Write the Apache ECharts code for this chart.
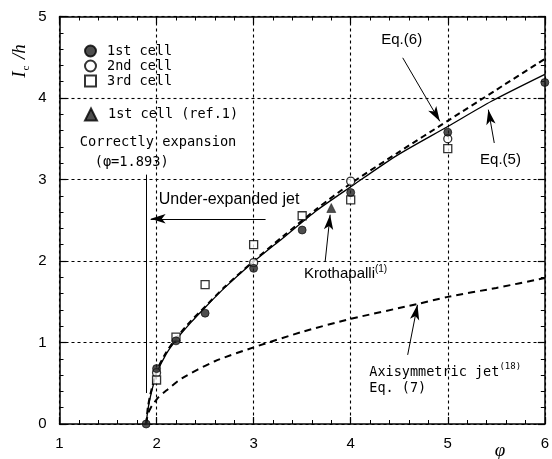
<!DOCTYPE html>
<html><head><meta charset="utf-8">
<script src="https://cdn.jsdelivr.net/npm/echarts@6/dist/echarts.min.js"></script>
<style>html,body{margin:0;padding:0;background:#fff}#c{width:552px;height:459px}</style>
</head><body><div id="c"></div>
<script>
// ---- data ----
const eq5 = [[1.893,0],[1.91,0.17],[1.93,0.30],[1.96,0.45],[2.0,0.62],[2.1,0.86],[2.2,1.03],[2.35,1.24],[2.5,1.43],[2.7,1.67],[3.0,1.99],[3.3,2.28],[3.65,2.62],[4.0,2.91],[4.47,3.29],[5.0,3.65],[5.45,3.96],[6.0,4.29]];
const eq6 = [[1.893,0],[1.91,0.20],[1.93,0.33],[1.96,0.48],[2.0,0.65],[2.1,0.88],[2.2,1.05],[2.35,1.26],[2.5,1.44],[2.7,1.68],[3.0,2.00],[3.3,2.30],[3.65,2.64],[4.0,2.95],[4.5,3.34],[5.0,3.72],[5.5,4.10],[6.0,4.48]];
const eq7 = [[1.893,0],[1.91,0.12],[1.94,0.20],[1.97,0.25],[2.02,0.33],[2.1,0.41],[2.26,0.56],[2.6,0.77],[3.0,0.94],[3.5,1.13],[4.0,1.29],[4.68,1.47],[5.0,1.56],[5.5,1.67],[6.0,1.79]];
const cell1 = [[1.893,0],[2,0.68],[2.2,1.02],[2.5,1.36],[3,1.91],[3.5,2.38],[4,2.84],[5,3.58],[6,4.19]];
const cell2 = [[2,0.63],[3,1.98],[4,2.98],[5,3.50]];
const cell3 = [[2,0.54],[2.2,1.065],[2.5,1.71],[3,2.20],[3.5,2.555],[4,2.75],[5,3.38]];
const ref1 = [[3.8,2.65]];
const seriesNames = ['1st cell','2nd cell','3rd cell','1st cell (ref.1)'];
// annotation arrows [from, to] in data coordinates
const arrows = [
  [[3.123,2.518],[1.939,2.518]],
  [[3.737,1.994],[3.788,2.568]],
  [[4.536,4.493],[4.918,3.714]],
  [[5.479,3.448],[5.418,3.857]],
  [[4.587,0.848],[4.688,1.462]]
];
const phiCorrect = [[1.893,3.06],[1.893,0.38]];

const chart = echarts.init(document.getElementById('c'));
const black = '#000';
const tickFont = {fontFamily:'Liberation Sans Narrow, Liberation Sans, sans-serif', fontSize:15, color:black};
function xAx(pos, labels){
  return {type:'value', min:1, max:6, interval:1, position:pos,
    axisLine:{show:true, onZero:false, lineStyle:{color:black,width:1.5}},
    axisTick:{show:true, inside:true, length:7, lineStyle:{color:black,width:1.2}},
    minorTick:{show:true, splitNumber:5, length:4, lineStyle:{color:black,width:1}},
    splitLine:{show:labels, lineStyle:{color:black,width:1.1,type:[3,3]}},
    axisLabel:labels?Object.assign({show:true, margin:12}, tickFont):{show:false}};
}
function yAx(pos, labels){
  return {type:'value', min:0, max:5, interval:1, position:pos,
    axisLine:{show:true, onZero:false, lineStyle:{color:black,width:1.5}},
    axisTick:{show:true, inside:true, length:7, lineStyle:{color:black,width:1.2}},
    minorTick:{show:true, splitNumber:5, length:4, lineStyle:{color:black,width:1}},
    splitLine:{show:labels, lineStyle:{color:black,width:1.1,type:[3,3]}},
    axisLabel:labels?Object.assign({show:true, margin:13}, tickFont):{show:false}};
}
const legendText = {fontFamily:'DejaVu Sans Mono, monospace', fontSize:13.5, color:black, padding:[0,0,0,6], lineHeight:12};
const option = {
  animation:false,
  backgroundColor:'#fff',
  grid:{left:59.5, top:16.5, width:491, height:407.5},
  xAxis:[xAx('bottom',true), xAx('top',false)],
  yAxis:[yAx('left',true), yAx('right',false)],
  legend:[
    {data:seriesNames.slice(0,3), orient:'vertical', left:84, top:44, itemWidth:11, itemHeight:11, itemGap:1, padding:0, selectedMode:false, textStyle:legendText},
    {data:[seriesNames[3]], orient:'vertical', left:84, top:107.5, itemWidth:12, itemHeight:12, padding:0, selectedMode:false, textStyle:legendText}
  ],
  series:[
    {name:'Eq.(5)', type:'line', data:eq5, showSymbol:false, smooth:0.25, lineStyle:{color:black,width:1.3}, z:3},
    {name:'Eq.(6)', type:'line', data:eq6, showSymbol:false, smooth:0.25, lineStyle:{color:black,width:2,type:[6,4]}, z:3},
    {name:'Eq.(7)', type:'line', data:eq7, showSymbol:false, smooth:0.25, lineStyle:{color:black,width:2,type:[7,5]}, z:3,
      markLine:{silent:true, animation:false, symbol:['none','arrow'], symbolSize:[7,15], precision:3,
        lineStyle:{type:'solid', color:black, width:1}, label:{show:false},
        data: arrows.map(a=>[{coord:a[0]},{coord:a[1]}]).concat([[{coord:phiCorrect[0],symbol:'none'},{coord:phiCorrect[1],symbol:'none'}]])
      }},
    {name:seriesNames[0], type:'scatter', data:cell1, symbol:'circle', symbolSize:8, itemStyle:{color:'#222',borderColor:'#000',borderWidth:0.8}, z:6},
    {name:seriesNames[1], type:'scatter', data:cell2, symbol:'circle', symbolSize:8, itemStyle:{color:'#fff',borderColor:'#000',borderWidth:1.3}, z:5},
    {name:seriesNames[2], type:'scatter', data:cell3, symbol:'rect', symbolSize:8, itemStyle:{color:'#fff',borderColor:'#000',borderWidth:1.3}, z:5},
    {name:seriesNames[3], type:'scatter', data:ref1, symbol:'triangle', symbolSize:9, itemStyle:{color:'#222',borderColor:'#000',borderWidth:0.6}, z:6}
  ]
};
chart.setOption(option);

function P(x,y){ return chart.convertToPixel({gridIndex:0},[x,y]); }
const mono = 'DejaVu Sans Mono, monospace';
const sans = 'Liberation Sans, Arial, sans-serif';
function txt(x,y,text,font,extra){
  const p = P(x,y);
  return {type:'text', x:p[0], y:p[1], z:20, style:Object.assign({text:text, font:font, fill:black, align:'left', verticalAlign:'middle'}, extra||{})};
}
const graphics = [
  txt(1.209,3.452,'Correctly expansion','13.7px '+mono),
  txt(1.362,3.21,'(φ=1.893)','13.7px '+mono),
  txt(2.023,2.752,'Under-expanded jet','16px '+sans),
  txt(3.52,1.855,'{a|Krothapalli}{s|(1)}','15px '+sans,{rich:{a:{font:'15px '+sans, lineHeight:18, verticalAlign:'bottom'}, s:{font:'10px '+sans, verticalAlign:'top'}}}),
  txt(4.315,4.717,'Eq.(6)','15px '+sans),
  txt(5.333,3.243,'Eq.(5)','15px '+sans),
  txt(4.192,0.655,'{a|Axisymmetric jet}{s|(18)}','13.5px '+mono,{rich:{a:{font:'13.5px '+mono, lineHeight:17, verticalAlign:'bottom'}, s:{font:'9px '+mono, verticalAlign:'top'}}}),
  txt(4.192,0.44,'Eq. (7)','13.5px '+mono),
  {type:'text', x:21, y:61, rotation:Math.PI/2, z:20, style:{text:'{i|I}{s|c}{t| /h}', align:'center', verticalAlign:'middle', fill:black,
     rich:{i:{font:'italic 19px Liberation Serif, serif', lineHeight:22, verticalAlign:'top'}, s:{font:'11px Liberation Serif, serif', verticalAlign:'bottom', padding:[0,2,0,1]}, t:{font:'italic 19px Liberation Serif, serif', verticalAlign:'top'}}}},
  {type:'text', x:500, y:451, z:20, style:{text:'φ', font:'italic 19px Liberation Serif, serif', fill:black, align:'center', verticalAlign:'middle'}}
];
chart.setOption({graphic:graphics});
</script></body></html>
